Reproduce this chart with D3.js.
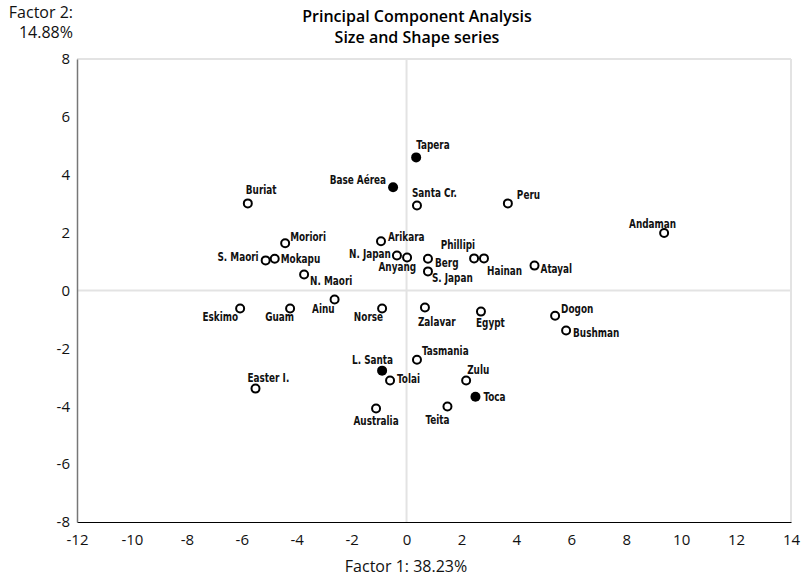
<!DOCTYPE html>
<html><head><meta charset="utf-8">
<script src="https://cdn.jsdelivr.net/npm/d3@7/dist/d3.min.js"></script>
<style>body{margin:0;background:#fff}svg{display:block}</style>
</head><body><svg id="c" width="803" height="579"></svg>
<script>
const names = ["Tapera","Base Aérea","Santa Cr.","Buriat","Peru","Andaman","Moriori","Arikara","S. Maori","Mokapu","N. Japan","Anyang","Berg","S. Japan","Phillipi","Hainan","Atayal","N. Maori","Ainu","Eskimo","Guam","Norse","Zalavar","Egypt","Dogon","Bushman","Tasmania","L. Santa","Tolai","Zulu","Toca","Easter I.","Australia","Teita"];
const factor1 = [0.35,-0.49,0.38,-5.78,3.69,9.38,-4.42,-0.93,-5.13,-4.80,-0.35,0.02,0.78,0.78,2.46,2.82,4.66,-3.73,-2.62,-6.06,-4.24,-0.89,0.67,2.71,5.41,5.81,0.38,-0.89,-0.60,2.17,2.51,-5.50,-1.11,1.49];
const factor2 = [4.60,3.57,2.94,3.01,3.01,1.99,1.63,1.70,1.04,1.10,1.21,1.14,1.10,0.66,1.11,1.11,0.86,0.55,-0.31,-0.62,-0.62,-0.62,-0.59,-0.73,-0.87,-1.38,-2.39,-2.77,-3.11,-3.11,-3.67,-3.39,-4.08,-4.01];
const filled = ["Tapera","Base Aérea","L. Santa","Toca"];
const xTicks = [-12,-10,-8,-6,-4,-2,0,2,4,6,8,10,12,14];
const yTicks = [-8,-6,-4,-2,0,2,4,6,8];
const titleLines = ["Principal Component Analysis","Size and Shape series"];
const xTitle = "Factor 1: 38.23%";
const yTitleLines = ["Factor 2:","14.88%"];

// label placement (layout, not data): [dx, dy, anchor]
const labelPos = {
 "Tapera":[0,-8,"start"],"Base Aérea":[-7,-3,"end"],"Santa Cr.":[-5,-8,"start"],"Buriat":[-2,-9,"start"],
 "Peru":[9,-4,"start"],"Andaman":[12,-5,"end"],"Moriori":[5,-2,"start"],"Arikara":[7,0,"start"],
 "S. Maori":[-7,1,"end"],"Mokapu":[6,4,"start"],"N. Japan":[-6,3,"end"],"Anyang":[9,13,"end"],
 "Berg":[7,8,"start"],"S. Japan":[4,11,"start"],"Phillipi":[1,-9,"end"],"Hainan":[3,17,"start"],
 "Atayal":[6,7,"start"],"N. Maori":[6,10,"start"],"Ainu":[0,14,"end"],"Eskimo":[-2,13,"end"],
 "Guam":[4,13,"end"],"Norse":[1,13,"end"],"Zalavar":[-7,18,"start"],"Egypt":[-5,15,"start"],
 "Dogon":[6,-3,"start"],"Bushman":[7,7,"start"],"Tasmania":[5,-5,"start"],"L. Santa":[11,-7,"end"],
 "Tolai":[7,3,"start"],"Zulu":[1,-6,"start"],"Toca":[8,4,"start"],"Easter I.":[-8,-7,"start"],
 "Australia":[0,16,"middle"],"Teita":[2,17,"end"]
};

const svg = d3.select("#c");
const x = d3.scaleLinear().domain([-12,14]).range([77,791]);
const y = d3.scaleLinear().domain([-8,8]).range([522,59]);
const tickFont = "'Open Sans','Noto Sans',sans-serif";
const labFont = "'DejaVu Sans Condensed','DejaVu Sans',sans-serif";

// grid lines: edges and zero lines
const grid = svg.append("g").attr("stroke","#e3e3e3").attr("stroke-width",2);
grid.append("line").attr("x1",x(-12)).attr("x2",x(14)).attr("y1",y(8)).attr("y2",y(8));
grid.append("line").attr("x1",x(-12)).attr("x2",x(14)).attr("y1",y(0)).attr("y2",y(0));
grid.append("line").attr("x1",x(0)).attr("x2",x(0)).attr("y1",y(8)).attr("y2",y(-8));
grid.append("line").attr("x1",x(14)).attr("x2",x(14)).attr("y1",y(8)).attr("y2",y(-8));

// axes
const xAxis = svg.append("g").attr("transform",`translate(0,${y(-8)})`)
  .call(d3.axisBottom(x).tickValues(xTicks).tickSize(0).tickPadding(12).tickFormat(d=>String(d)));
xAxis.select(".domain").attr("stroke","#000").attr("stroke-width",1.2);
xAxis.selectAll("text").attr("font-family",tickFont).attr("font-size",15).attr("fill","#111");
const yAxis = svg.append("g").attr("transform",`translate(${x(-12)},0)`)
  .call(d3.axisLeft(y).tickValues(yTicks).tickSize(0).tickPadding(7).tickFormat(d=>String(d)));
yAxis.select(".domain").attr("stroke","#777").attr("stroke-width",1.5);
yAxis.selectAll("text").attr("font-family",tickFont).attr("font-size",15).attr("fill","#111");

// titles
svg.append("text").attr("x",417).attr("y",22).attr("text-anchor","middle")
  .attr("font-family",tickFont).attr("font-weight",600).attr("font-size",16).text(titleLines[0]);
svg.append("text").attr("x",417).attr("y",43).attr("text-anchor","middle")
  .attr("font-family",tickFont).attr("font-weight",600).attr("font-size",16).text(titleLines[1]);
svg.append("text").attr("x",406).attr("y",572).attr("text-anchor","middle")
  .attr("font-family",tickFont).attr("font-size",16).attr("fill","#111").text(xTitle);
yTitleLines.forEach((t,i)=>svg.append("text").attr("x",73).attr("y",18+i*20).attr("text-anchor","end")
  .attr("font-family",tickFont).attr("font-size",16).attr("fill","#111").text(t));

// points
const data = names.map((n,i)=>({name:n,f1:factor1[i],f2:factor2[i],filled:filled.includes(n)}));
const g = svg.append("g");
g.selectAll("circle").data(data).join("circle")
  .attr("cx",d=>x(d.f1)).attr("cy",d=>y(d.f2))
  .attr("r",d=>d.filled?5:4)
  .attr("fill",d=>d.filled?"#000":"#fff")
  .attr("stroke","#000").attr("stroke-width",d=>d.filled?0:2);
g.selectAll("text").data(data).join("text")
  .attr("transform",d=>`translate(${x(d.f1)+labelPos[d.name][0]},${y(d.f2)+labelPos[d.name][1]}) scale(0.76,1)`)
  .attr("text-anchor",d=>labelPos[d.name][2])
  .attr("font-family",labFont).attr("font-stretch","condensed").attr("font-weight","bold").attr("font-size",13).attr("fill","#111")
  .text(d=>d.name);
</script></body></html>
